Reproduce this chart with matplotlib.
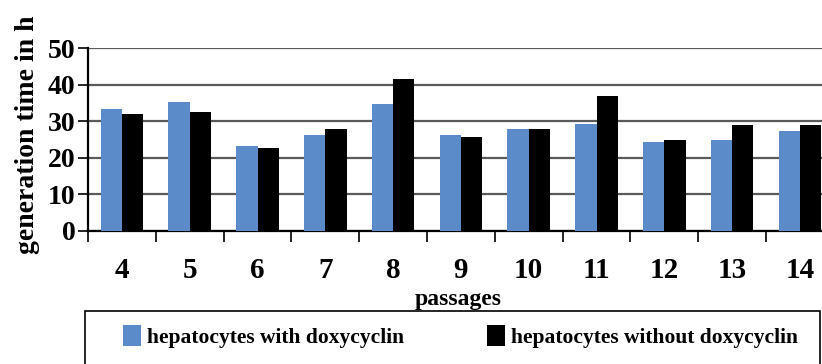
import matplotlib
matplotlib.use("Agg")
from matplotlib import pyplot as plt
from matplotlib.patches import Rectangle
import numpy as np

passages = ["4", "5", "6", "7", "8", "9", "10", "11", "12", "13", "14"]
with_doxy = [33.2, 35.2, 23.3, 26.3, 34.6, 26.2, 27.9, 29.1, 24.2, 25.0, 27.2]
without_doxy = [31.9, 32.6, 22.7, 27.9, 41.5, 25.6, 27.9, 36.9, 24.9, 29.0, 29.0]

plt.rcParams['font.family'] = ['Liberation Serif', 'DejaVu Serif']
plt.rcParams['font.weight'] = 'bold'

fig = plt.figure(figsize=(8.22, 3.64), dpi=100)
ax = fig.add_axes([0.1071, 0.3654, 0.9073, 0.5027])

x = np.arange(len(passages))
w = 0.315
b1 = ax.bar(x - w / 2, with_doxy, w, color='#5B8BC9', zorder=3,
            label='hepatocytes with doxycyclin')
b2 = ax.bar(x + w / 2, without_doxy, w, color='black', zorder=3,
            label='hepatocytes without doxycyclin')

ax.set_xlim(-0.5, len(passages) - 0.5)
ax.set_ylim(0, 50)
ax.set_yticks(range(0, 51, 10))
ax.yaxis.grid(True, color='#5a5a5a', linewidth=1.6, zorder=0)
ax.set_axisbelow(True)

# tick marks at the category borders, labels at the centres
ax.set_xticks(np.arange(-0.5, len(passages), 1.0))
ax.set_xticklabels([])
ax.set_xticks(x, minor=True)
ax.set_xticklabels(passages, minor=True, fontsize=21, fontweight='bold')
ax.tick_params(axis='x', which='major', direction='out', length=8, width=1.2)
ax.tick_params(axis='x', which='minor', length=0, pad=19)
ax.tick_params(axis='y', direction='out', length=7, width=1.2,
               labelsize=20, pad=2)
for lab in ax.get_yticklabels():
    lab.set_fontweight('bold')

for side in ['top', 'right']:
    ax.spines[side].set_visible(False)
ax.spines['left'].set_linewidth(1.6)
ax.spines['bottom'].set_linewidth(1.6)

ax.set_ylabel('generation time in h', fontsize=20, fontweight='bold')
ax.yaxis.set_label_coords(-0.064, 0.525)

fig.text(0.558, 0.163, 'passages', ha='center', va='baseline', fontsize=17,
         fontweight='bold', zorder=1)

# legend box, partly running off the bottom of the figure
box = Rectangle((85 / 822, -0.2), (820 - 85) / 822, 1 - 311 / 364 + 0.2,
                transform=fig.transFigure, facecolor='white',
                edgecolor='black', linewidth=1.2, zorder=2)
fig.patches.append(box)
leg = fig.legend(handles=[b1, b2], loc='center left', ncol=2, frameon=False,
                 bbox_to_anchor=(0.126, 0.075),
                 handlelength=0.85, handleheight=1.1, handletextpad=0.25,
                 columnspacing=3.87, prop={'weight': 'bold', 'size': 15.5})
leg.set_zorder(5)

fig.savefig('out.png', dpi=100)
